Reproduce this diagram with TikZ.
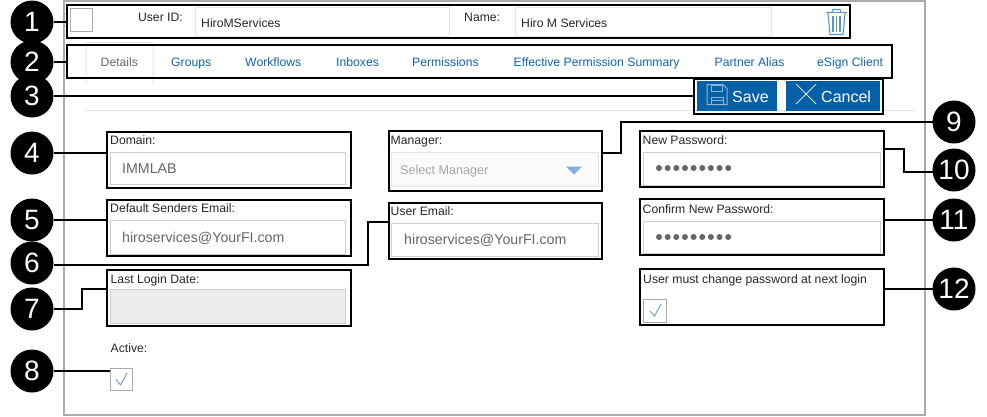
\documentclass[tikz,border=0pt]{standalone}
\usepackage{fontspec}
\setmainfont{Liberation Sans}
\usetikzlibrary{arrows.meta, positioning, shapes.geometric, calc}

\definecolor{framegray}{HTML}{ABABAB}
\definecolor{fieldgray}{HTML}{CFCFCF}
\definecolor{palegray}{HTML}{E4E4E4}
\definecolor{linkblue}{HTML}{0F63AD}
\definecolor{btnblue}{HTML}{0560A8}
\definecolor{iconblue}{HTML}{5596D0}
\definecolor{textgray}{HTML}{666666}

\tikzset{
    hotspot/.style={rectangle, draw=black, line width=1.6pt, inner sep=0pt, outer sep=0pt},
    numdot/.style={circle, fill=black, text=white, inner sep=0pt, outer sep=0pt, minimum size=43pt, font=\fontsize{28}{28}\selectfont},
    leader/.style={draw=black, line width=1.6pt},
    fieldbox/.style={rectangle, draw=fieldgray, line width=1pt, fill=white, inner sep=0pt},
    topfield/.style={rectangle, draw=palegray, line width=1pt, inner sep=0pt},
    fieldlabel/.style={anchor=base west, inner sep=0pt, text=black!85, font=\fontsize{12.2}{13}\selectfont},
    fieldtext/.style={anchor=base west, inner sep=0pt, text=textgray, font=\fontsize{14.2}{15}\selectfont},
    toptext/.style={anchor=base west, inner sep=0pt, text=black!85, font=\fontsize{12.2}{13}\selectfont},
    tablink/.style={anchor=base west, inner sep=0pt, text=linkblue, font=\fontsize{12.2}{13}\selectfont},
    actionbtn/.style={rectangle, fill=btnblue, inner sep=0pt},
    btntext/.style={anchor=base west, inner sep=0pt, text=white, font=\fontsize{16}{17}\selectfont},
    tickbox/.style={rectangle, draw=framegray, line width=0.8pt, fill=white, inner sep=0pt, minimum size=22pt},
    passdot/.style={circle, fill=textgray, inner sep=0pt, minimum size=6pt},
    tickmark/.style={draw=iconblue, line width=0.8pt}
}

\begin{document}
\begin{tikzpicture}[x=1pt, y=-1pt]
    \useasboundingbox (0,0) rectangle (987,416);

    % page frame and rule
    \node[rectangle, draw=framegray, line width=2pt, minimum width=861pt, minimum height=414pt] (page) at (494.5,208) {};
    \node[rectangle, fill=palegray, inner sep=0pt, minimum width=830pt, minimum height=1pt] (rule) at (500,110.5) {};

    % header row
    \node[tickbox, minimum size=0pt, minimum width=22pt, minimum height=23pt] (selectbox) at (81.5,19.5) {};
    \node[toptext, anchor=base east] (useridlabel) at (183,21) {User ID:};
    \node[topfield, minimum width=254pt, minimum height=29pt] (useridfield) at (322,21.5) {};
    \node[toptext] (useridtext) at (201,27) {HiroMServices};
    \node[toptext] (namelabel) at (464,21) {Name:};
    \node[topfield, minimum width=256pt, minimum height=29pt] (namefield) at (643,21.5) {};
    \node[toptext] (nametext) at (521,27) {Hiro M Services};

    % trash icon
    \draw[iconblue, line width=1.1pt] (826,12.5) -- (847,12.5);
    \draw[iconblue, line width=1.1pt] (832,12) -- (833,9.5) -- (840,9.5) -- (841,12);
    \draw[iconblue, line width=1.1pt] (828,13) -- (830,34.5) -- (843,34.5) -- (845,13);
    \foreach \i in {833,836.5,840} {
        \draw[iconblue, line width=1.1pt] (\i,16) -- (\i,32);
    }

    % tabs
    \draw[palegray, line width=1pt, rounded corners=1.5pt] (86,82) -- (86,42.5) -- (153,42.5) -- (153,82);
    \node[tablink, text=textgray] (tabdetails) at (100.5,66) {Details};
    \foreach \name/\x/\txt in {groups/171/Groups, workflows/245/Workflows, inboxes/336/Inboxes, permissions/412/Permissions, summary/513.5/Effective Permission Summary, alias/714.5/Partner Alias, esign/817/eSign Client} {
        \node[tablink] (tab\name) at (\x,66) {\txt};
    }

    % buttons
    \node[actionbtn, minimum width=80pt, minimum height=30pt] (savebtn) at (737,96) {};
    \node[actionbtn, minimum width=94pt, minimum height=30pt] (cancelbtn) at (833,96) {};
    \node[btntext] (savetext) at (732,102.5) {Save};
    \node[btntext] (canceltext) at (821,102.5) {Cancel};
    \draw[iconblue!70!white, line width=1pt] (707,84.5) -- (723,84.5) -- (727,88.5) -- (727,104.5) -- (707,104.5) -- cycle;
    \draw[iconblue!70!white, line width=1pt] (711,85) rectangle (722,91);
    \draw[iconblue!70!white, line width=1pt] (711,97) rectangle (723,104);
    \draw[iconblue!70!white, line width=1pt] (711,100) -- (723,100);
    \draw[white, line width=0.7pt] (796,84) -- (816,104);
    \draw[white, line width=0.7pt] (816,84) -- (796,104);

    % form fields
    \foreach \name/\x/\y/\w/\h/\txt in {domain/228/168/235/32/Domain:, senders/228/237/235/34/Default Senders Email:, manager/494.5/169/207/34/Manager:, useremail/494.5/239.5/207/33/User Email:, newpass/761.5/168.5/237/33/New Password:, confirm/761.5/237/237/32/Confirm New Password:} {
        \node[fieldbox, minimum width=\w pt, minimum height=\h pt] (\name field) at (\x,\y) {};
        \node[fieldlabel] (\name label) at ($(\name field.north west)+(0,-7)$) {\txt};
    }
    \node[fieldbox, draw=palegray, fill=black!2, minimum width=207pt, minimum height=34pt] (managerfield) at (494.5,169) {};
    \node[fieldbox, fill=black!7.5, minimum width=235pt, minimum height=34pt] (lastloginfield) at (228,306) {};
    \node[fieldlabel] (lastloginlabel) at (110.5,283.5) {Last Login Date:};
    \node[fieldtext] (domaintext) at (122,173) {IMMLAB};
    \node[fieldtext] (senderstext) at (122,242) {hiroservices@YourFI.com};
    \node[fieldtext] (useremailtext) at (404,244) {hiroservices@YourFI.com};
    \node[fieldtext, text=black!35, font=\fontsize{12.6}{13}\selectfont] (managertext) at (400,174) {Select Manager};
    \node[isosceles triangle, isosceles triangle apex angle=90, shape border rotate=-90, fill=iconblue!75, inner sep=0pt, minimum width=16pt, minimum height=8pt] (managerarrow) at (574,170) {};

    % password dots
    \foreach \i in {0,...,8} {
        \node[passdot] (newdot\i) at ({659+\i*8.65},168) {};
        \node[passdot] (confirmdot\i) at ({659+\i*8.65},237) {};
    }

    % check boxes
    \node[fieldlabel] (changelabel) at (643,283.5) {User must change password at next login};
    \node[tickbox, minimum size=0pt, minimum width=23pt, minimum height=23pt] (changebox) at (655,310.5) {};
    \draw[tickmark] (650,311) -- (654.5,316) -- (661,304);
    \node[fieldlabel] (activelabel) at (110.5,352.5) {Active:};
    \node[tickbox] (activebox) at (121.5,379) {};
    \draw[tickmark] (116,379.5) -- (120.5,385) -- (127,373);

    % highlight boxes
    \foreach \name/\x/\y/\w/\h in {bxheader/458.5/21.5/783.5/33, bxtabs/479.5/61.5/825/33, bxbuttons/788.5/96.5/189/34.5, bxdomain/229/160/244/56, bxmanager/495.5/161/213/60, bxnewpass/762/159/244/56, bxsenders/229/228/244/56, bxuseremail/495.5/231/213/56, bxconfirm/762/227/244/56, bxlastlogin/229/298/244/56, bxchange/762/297/244/56} {
        \node[hotspot, minimum width=\w pt, minimum height=\h pt] (\name) at (\x,\y) {};
    }
    \coordinate (activetip) at (activebox.west);

    % numbered dots
    \foreach \n/\x/\y in {1/32/22, 2/32/62, 3/32/96, 4/32/153, 5/32/220, 6/32/263, 7/32/309, 8/32/371, 9/954/122, 10/954/170, 11/954/220, 12/954/289} {
        \node[numdot] (num\n) at (\x,\y) {\n};
    }

    % straight leaders
    \draw[leader] (num1.east) -- (num1.east -| bxheader.west);
    \draw[leader] (num2.east) -- (num2.east -| bxtabs.west);
    \draw[leader] (num3.east) -- (num3.east -| bxbuttons.west);
    \draw[leader] (num4.east) -- (num4.east -| bxdomain.west);
    \draw[leader] (num5.east) -- (num5.east -| bxsenders.west);
    \draw[leader] (num8.east) -- (num8.east -| activetip);
    \draw[leader] (num11.west) -- (num11.west -| bxconfirm.east);
    \draw[leader] (num12.west) -- (num12.west -| bxchange.east);

    % bent leaders
    \draw[leader] ([yshift=-2pt]num6.east) -- ++(314.5,0) |- ([yshift=9pt]bxuseremail.west);
    \draw[leader] (num7.east) -- ++(28.5,0) |- ([yshift=9pt]bxlastlogin.west);
    \draw[leader] (num9.west) -- ++(-311.5,0) |- ([yshift=8pt]bxmanager.east);
    \draw[leader] ([yshift=-2pt]num10.west) -- ++(-28.5,0) |- ([yshift=10pt]bxnewpass.east);
\end{tikzpicture}
\end{document}
